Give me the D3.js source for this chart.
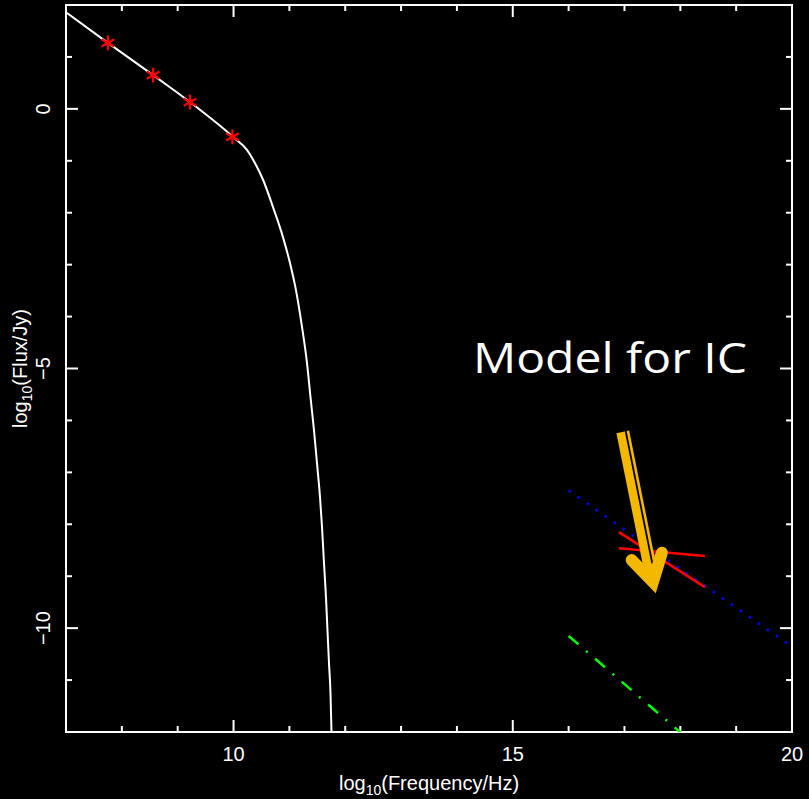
<!DOCTYPE html>
<html>
<head>
<meta charset="utf-8">
<script src="https://cdn.jsdelivr.net/npm/d3@7"></script>
<style>
  body { margin: 0; background: #000; }
  svg { display: block; }
  .label, .title { fill: #fff; font-family: "Liberation Sans", Arial, sans-serif; font-size: 20px; }
</style>
</head>
<body>
<div id="chart"></div>
<script>
const WIDTH = 809;
const HEIGHT = 799;

// axis ranges and ticks
const xDomain = [7, 20];
const yDomain = [-12, 2];
const xMajor = [10, 15, 20];
const yMajor = [-10, -5, 0];

// radio data points (log10 nu, log10 F)
const radioNu = [7.75, 8.56, 9.22, 9.98];
const radioFlux = [1.27, 0.65, 0.13, -0.54];

// synchrotron model curve
const synchNu = [7.0, 7.75, 8.56, 9.22, 9.99, 10.24, 10.42, 10.53, 10.706, 10.885, 11.011, 11.118, 11.226,
  11.315, 11.378, 11.44, 11.494, 11.548, 11.584, 11.62, 11.655, 11.682, 11.709, 11.736, 11.754];
const synchFlux = [1.86, 1.27, 0.65, 0.13, -0.54, -0.79, -1.12, -1.37, -1.89, -2.47, -2.97, -3.49, -4.20,
  -4.89, -5.55, -6.18, -6.82, -7.47, -8.05, -8.75, -9.40, -10.04, -10.67, -11.25, -12.0];

// inverse-Compton model (blue dotted)
const icNu = [16.0, 20.0];
const icFlux = [-7.35, -10.36];

// X-ray bowtie (red)
const bowNu = [16.9, 18.44];
const bowSteep = [-8.15, -9.21];
const bowFlat = [-8.46, -8.61];

// second model (green dash-dot)
const lowNu = [16.0, 18.05];
const lowFlux = [-10.15, -12.05];

// annotation
const label = 'Model for IC';
const arrowTail = [16.97, -6.22];
const arrowHead = [17.51, -9.11];
const arrowWings = [[17.13, -8.69], [17.67, -8.55]];

const margin = { left: 66, top: 5, right: 17, bottom: 67 };

const x = d3.scaleLinear().domain(xDomain).range([margin.left, WIDTH - margin.right]);
const y = d3.scaleLinear().domain(yDomain).range([HEIGHT - margin.bottom, margin.top]);

const svg = d3.select('#chart')
  .append('svg')
  .attr('width', WIDTH)
  .attr('height', HEIGHT);

svg.append('rect')
  .attr('width', WIDTH)
  .attr('height', HEIGHT)
  .attr('fill', '#000');

svg.append('clipPath')
  .attr('id', 'plot-clip')
  .append('rect')
  .attr('x', x(xDomain[0]))
  .attr('y', y(yDomain[1]))
  .attr('width', x(xDomain[1]) - x(xDomain[0]))
  .attr('height', y(yDomain[0]) - y(yDomain[1]));

const xMinor = d3.range(xDomain[0], xDomain[1] + 1).filter(v => !xMajor.includes(v));
const yMinor = d3.range(yDomain[0], yDomain[1] + 1).filter(v => !yMajor.includes(v));

function drawAxes() {
  const x0 = x(xDomain[0]), x1 = x(xDomain[1]);
  const y0 = y(yDomain[0]), y1 = y(yDomain[1]);
  const g = svg.append('g').attr('class', 'axes');

  // inward ticks on all four sides
  const xTicks = xMajor.map(v => [v, 12]).concat(xMinor.map(v => [v, 6]));
  const yTicks = yMajor.map(v => [v, 12]).concat(yMinor.map(v => [v, 6]));

  const tickLines = [];
  xTicks.forEach(([v, len]) => {
    tickLines.push([x(v), y0, x(v), y0 - len]);
    tickLines.push([x(v), y1, x(v), y1 + len]);
  });
  yTicks.forEach(([v, len]) => {
    tickLines.push([x0, y(v), x0 + len, y(v)]);
    tickLines.push([x1, y(v), x1 - len, y(v)]);
  });

  g.selectAll('line.tick')
    .data(tickLines)
    .join('line')
    .attr('class', 'tick')
    .attr('x1', d => d[0])
    .attr('y1', d => d[1])
    .attr('x2', d => d[2])
    .attr('y2', d => d[3])
    .attr('stroke', '#fff')
    .attr('stroke-width', 2);

  g.append('rect')
    .attr('x', x0)
    .attr('y', y1)
    .attr('width', x1 - x0)
    .attr('height', y0 - y1)
    .attr('fill', 'none')
    .attr('stroke', '#fff')
    .attr('stroke-width', 2);

  const fmt = d3.format('d');

  g.selectAll('text.xlab')
    .data(xMajor)
    .join('text')
    .attr('class', 'label xlab')
    .attr('x', d => x(d))
    .attr('y', y0 + 29)
    .attr('text-anchor', 'middle')
    .text(fmt);

  g.selectAll('text.ylab')
    .data(yMajor)
    .join('text')
    .attr('class', 'label ylab')
    .attr('transform', d => `translate(${x0 - 16},${y(d)}) rotate(-90)`)
    .attr('text-anchor', 'middle')
    .text(fmt);

  const xt = g.append('text')
    .attr('class', 'title')
    .attr('x', (x0 + x1) / 2)
    .attr('y', 790)
    .attr('text-anchor', 'middle');
  xt.append('tspan').text('log');
  xt.append('tspan').attr('dy', 5).style('font-size', '14px').text('10');
  xt.append('tspan').attr('dy', -5).text('(Frequency/Hz)');

  const yt = g.append('text')
    .attr('class', 'title')
    .attr('transform', `translate(27,${(y0 + y1) / 2}) rotate(-90)`)
    .attr('text-anchor', 'middle');
  yt.append('tspan').text('log');
  yt.append('tspan').attr('dy', 5).style('font-size', '14px').text('10');
  yt.append('tspan').attr('dy', -5).text('(Flux/Jy)');
}

function drawSeries() {
  const plot = svg.append('g').attr('clip-path', 'url(#plot-clip)');
  const line = d3.line().x(d => x(d[0])).y(d => y(d[1]));

  plot.append('path')
    .datum(d3.zip(synchNu, synchFlux))
    .attr('fill', 'none')
    .attr('stroke', '#fff')
    .attr('stroke-width', 2)
    .attr('d', line.curve(d3.curveMonotoneX));

  line.curve(d3.curveLinear);

  plot.append('path')
    .datum(d3.zip(icNu, icFlux))
    .attr('fill', 'none')
    .attr('stroke', '#0000ff')
    .attr('stroke-width', 2.5)
    .attr('stroke-dasharray', '2.5,8.5')
    .attr('d', line);

  [bowSteep, bowFlat].forEach(f => {
    plot.append('path')
      .datum(d3.zip(bowNu, f))
      .attr('fill', 'none')
      .attr('stroke', '#ff0000')
      .attr('stroke-width', 2.5)
      .attr('d', line);
  });

  plot.append('path')
    .datum(d3.zip(lowNu, lowFlux))
    .attr('fill', 'none')
    .attr('stroke', '#00ff00')
    .attr('stroke-width', 2.5)
    .attr('stroke-dasharray', '13,10,2,10')
    .attr('d', line);

  plot.selectAll('.radio')
    .data(d3.zip(radioNu, radioFlux))
    .join('path')
    .attr('class', 'radio')
    .attr('transform', d => `translate(${x(d[0])},${y(d[1])})`)
    .attr('d', d3.symbol(d3.symbolAsterisk, 150))
    .attr('fill', 'none')
    .attr('stroke', '#ff0000')
    .attr('stroke-width', 2.2);
}

function drawAnnotation() {
  const yellow = '#f5b800';
  const t = [x(arrowTail[0]), y(arrowTail[1])];
  const h = [x(arrowHead[0]), y(arrowHead[1])];
  const dx = h[0] - t[0], dy = h[1] - t[1];
  const len = Math.hypot(dx, dy);
  const u = [dx / len, dy / len];
  const p = [u[1], -u[0]];
  const at = (k, off) => [t[0] + u[0] * k + p[0] * off, t[1] + u[1] * k + p[1] * off];

  svg.append('path')
    .attr('d', d3.line()([at(0, 0), at(len - 2, 0)]))
    .attr('stroke', yellow)
    .attr('stroke-width', 13)
    .attr('fill', 'none');

  svg.append('path')
    .attr('d', d3.line()([at(-1, 3), at(len - 18, 3)]))
    .attr('stroke', '#000')
    .attr('stroke-width', 1.8)
    .attr('fill', 'none');

  svg.append('path')
    .attr('d', d3.line()([arrowWings[0], arrowHead, arrowWings[1]].map(d => [x(d[0]), y(d[1])])))
    .attr('stroke', yellow)
    .attr('stroke-width', 12)
    .attr('stroke-linecap', 'round')
    .attr('stroke-linejoin', 'miter')
    .attr('fill', 'none');

  svg.append('text')
    .attr('x', 473)
    .attr('y', 373)
    .attr('fill', '#fff')
    .style('font-family', '"Open Sans", "Noto Sans", sans-serif')
    .style('font-size', '42px')
    .attr('textLength', 274)
    .attr('lengthAdjust', 'spacingAndGlyphs')
    .text(label);
}

drawAxes();
drawSeries();
drawAnnotation();
</script>
</body>
</html>
